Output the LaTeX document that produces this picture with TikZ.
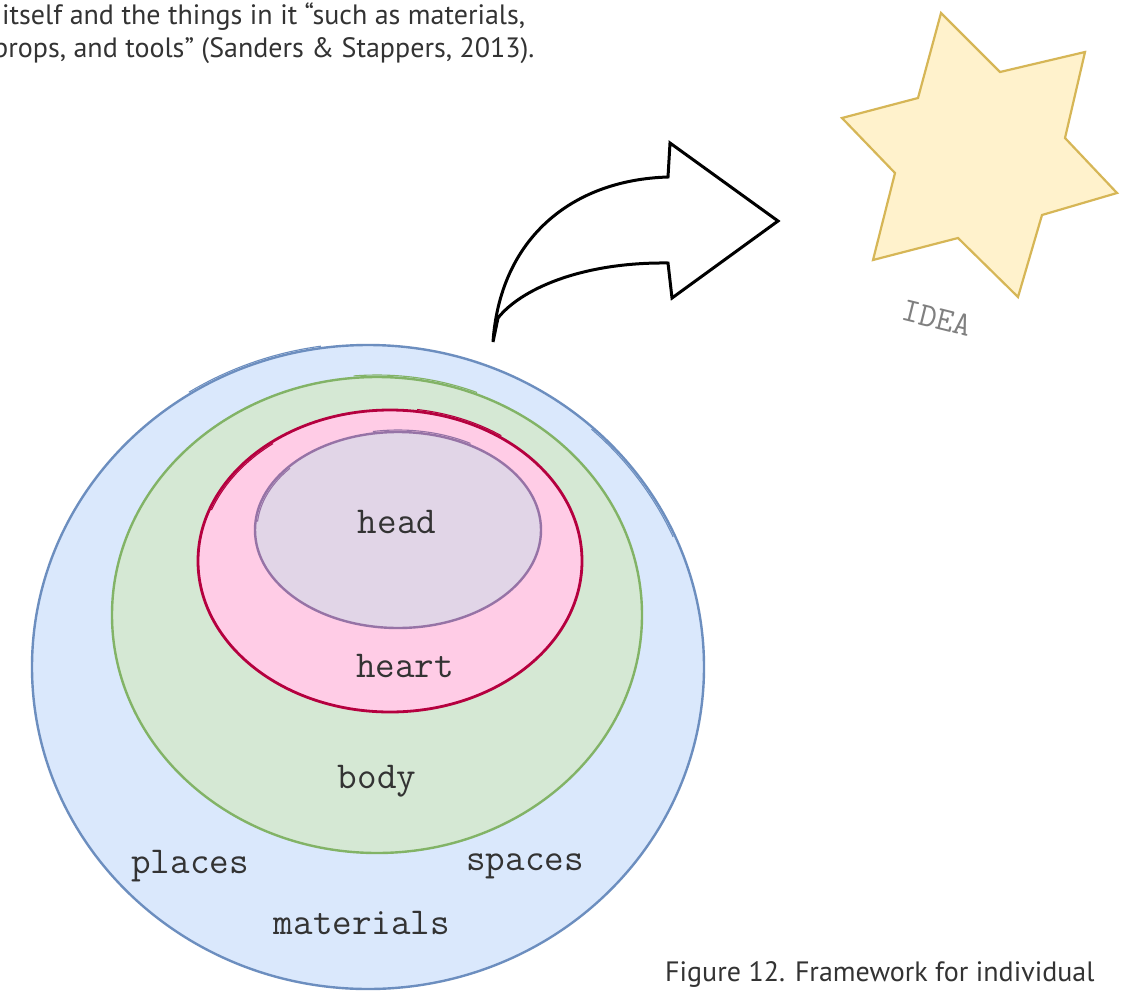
\documentclass[tikz,border=0pt]{standalone}
\usepackage{fontspec}
\setmainfont{PT Sans}
\usetikzlibrary{shapes.geometric}
\definecolor{txt}{HTML}{333333}
\definecolor{blueFill}{HTML}{DAE8FC}\definecolor{blueLine}{HTML}{6C8EBF}
\definecolor{greenFill}{HTML}{D5E8D4}\definecolor{greenLine}{HTML}{82B366}
\definecolor{pinkFill}{HTML}{FFCCE6}\definecolor{pinkLine}{HTML}{B5003F}
\definecolor{purpleFill}{HTML}{E1D5E7}\definecolor{purpleLine}{HTML}{9673A6}
\definecolor{starFill}{HTML}{FFF2CC}\definecolor{starLine}{HTML}{D6B656}
\tikzset{
  ring/.style={ellipse, draw, line width=2.4pt, inner sep=0pt},
  sketch/.style={line width=1.1pt},
  lbl/.style={font=\ttfamily\fontsize{38}{38}\selectfont, text=txt},
  prose/.style={font=\fontsize{28}{32}\selectfont, text=txt, inner sep=0pt}
}
\begin{document}
\begin{tikzpicture}[x=1pt,y=-1pt]
\useasboundingbox (0,0) rectangle (1126,990);
\fill[white] (0,0) rectangle (1126,990);

% running text above and caption below
\node[prose, anchor=base west] (line1) at (2,25) {itself and the things in it “such as materials,};
\node[prose, anchor=base west] (line2) at (-7,57) {props, and tools” (Sanders \& Stappers, 2013).};
\node[prose, anchor=base west] (caption) at (665,981) {Figure 12. Framework for individual};

% nested circles; short offset arcs give the hand-drawn double strokes
\node[ring, fill=blueFill, draw=blueLine, minimum width=672pt, minimum height=644pt] (outer) at (368,667) {};
\draw[sketch, blueLine] (outer.center) ++(-122:338 and 324) arc[start angle=-122, end angle=-98, x radius=338, y radius=324];
\draw[sketch, blueLine] (outer.center) ++(-48:334 and 320) arc[start angle=-48, end angle=-24, x radius=334, y radius=320];
\node[ring, fill=greenFill, draw=greenLine, minimum width=530pt, minimum height=476pt] (body) at (377,615) {};
\draw[sketch, greenLine] (body.center) ++(-95:267 and 240) arc[start angle=-95, end angle=-68, x radius=267, y radius=240];
\node[ring, fill=pinkFill, draw=pinkLine, line width=2.8pt, minimum width=384pt, minimum height=302pt] (heart) at (390,561) {};
\draw[sketch, pinkLine] (heart.center) ++(-160:190 and 149) arc[start angle=-160, end angle=-128, x radius=190, y radius=149];
\draw[sketch, pinkLine] (heart.center) ++(-82:194 and 153) arc[start angle=-82, end angle=-55, x radius=194, y radius=153];
\node[ring, fill=purpleFill, draw=purpleLine, minimum width=286pt, minimum height=196pt] (head) at (398,530) {};
\draw[sketch, purpleLine] (head.center) ++(-175:141 and 96) arc[start angle=-175, end angle=-140, x radius=141, y radius=96];
\draw[sketch, purpleLine] (head.center) ++(-100:145 and 100) arc[start angle=-100, end angle=-60, x radius=145, y radius=100];

% labels
\node[lbl] (tHead) at (397,522) {head};
\node[lbl] (tHeart) at (405,666) {heart};
\node[lbl] (tBody) at (377,781) {body};
\node[lbl] (tPlaces) at (190,866) {places};
\node[lbl] (tSpaces) at (525,866) {spaces};
\node[lbl] (tMaterials) at (362,923) {materials};

% curved block arrow
\draw[line width=3pt, line join=miter, fill=white]
  (493,342) .. controls (500,240) and (570,180) .. (668,177)
  -- (670,143) -- (778,221) -- (672,298) -- (668,263)
  .. controls (580,262) and (520,290) .. (498,318) -- cycle;

% six-pointed star
\draw[line width=2.2pt, draw=starLine, fill=starFill, line join=miter]
  (941,13) -- (1000,72) -- (1085,52) -- (1065,138) -- (1117,193) -- (1042,215)
  -- (1018,297) -- (958,238) -- (873,260) -- (895,173) -- (842,118) -- (918,98) -- cycle;
\node[font=\ttfamily\fontsize{34}{34}\selectfont, text=gray, rotate=-14] (idea) at (937,318) {IDEA};
\end{tikzpicture}
\end{document}
